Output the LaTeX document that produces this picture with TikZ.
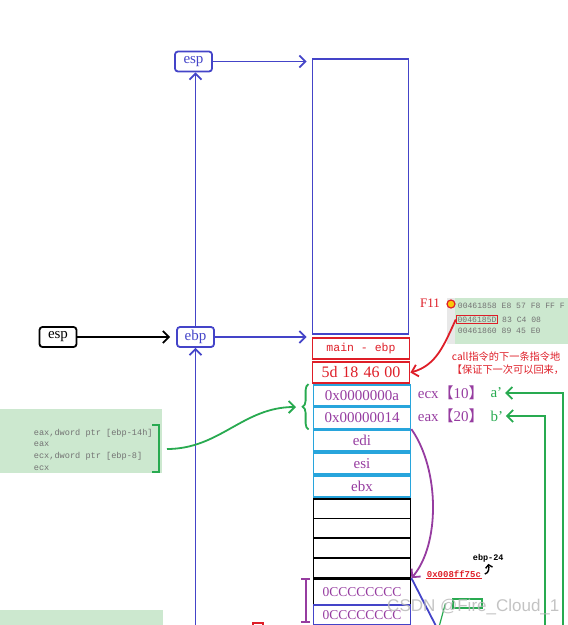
\documentclass[tikz,border=0pt]{standalone}
\usepackage{fontspec}
\setmainfont{Liberation Serif}
\setmonofont{Liberation Mono}
\setsansfont{Liberation Sans}
\newfontfamily\cjk{Noto Sans CJK SC}
\usetikzlibrary{arrows.meta, positioning, decorations.pathreplacing}
\definecolor{regblue}{RGB}{68,68,200}
\definecolor{regred}{RGB}{222,30,40}
\definecolor{slotcyan}{RGB}{40,165,220}
\definecolor{valpurple}{RGB}{150,60,160}
\definecolor{linkgreen}{RGB}{40,170,80}
\definecolor{panelgreen}{RGB}{204,232,207}
\definecolor{codegray}{RGB}{115,115,115}
\tikzstyle{reg} = [rectangle, rounded corners=3pt, draw=regblue, text=regblue, minimum width=37pt, minimum height=20pt, inner sep=1pt, font=\fontsize{15}{15}\selectfont]
\tikzstyle{slot} = [rectangle, draw, minimum width=97pt, minimum height=21pt, inner sep=0pt, font=\fontsize{15}{15}\selectfont]
\tikzstyle{redslot} = [slot, draw=regred, text=regred]
\tikzstyle{cyanslot} = [slot, draw=slotcyan, text=valpurple]
\tikzstyle{arrow} = [-{Straight Barb[length=6pt,width=12pt]}]
\tikzstyle{code} = [font=\fontsize{8.6}{11.7}\ttfamily, text=codegray, align=left, inner sep=0pt]
\tikzstyle{dump} = [code, font=\fontsize{8.1}{11.7}\ttfamily]
\tikzstyle{label} = [anchor=west, inner sep=0pt, font=\fontsize{15}{15}\selectfont]

\begin{document}
\begin{tikzpicture}[x=1pt,y=-1pt,line width=1.8pt]
               \useasboundingbox (0,0) rectangle (568,625);
               \clip (0,0) rectangle (568,625);
               \fill[panelgreen] (0,409) rectangle (162,473);
               \fill[panelgreen] (0,610) rectangle (163,625);
               \fill[gray!18] (447,298) rectangle (455,344);
               \fill[panelgreen] (455,298) rectangle (568,344);
               \node[reg] (espTop) at (193.5,61.5) {esp};
               \node[reg] (ebp) at (195.5,337) {ebp};
               \node[reg, draw=black, text=black] (espOld) at (58,337) {esp};
               \node[draw=regblue, minimum width=96pt, minimum height=275pt, inner sep=0pt] (frame) at (360.5,196.5) {};
               \node[redslot, font=\fontsize{11.5}{12}\ttfamily] (mainebp) at (361,348.5) {main - ebp};
               \node[redslot, font=\fontsize{16}{16}\selectfont] (retaddr) at (361,372.5) {5d\hspace{5pt}18\hspace{5pt}46\hspace{5pt}00};
               \node[cyanslot] (vala) at (362,395.5) {0x0000000a};
               \node[cyanslot] (valb) at (362,418) {0x00000014};
               \node[cyanslot] (edi) at (362,440.5) {edi};
               \node[cyanslot] (esi) at (362,463.5) {esi};
               \node[cyanslot] (ebx) at (362,486.5) {ebx};
               \foreach \i [count=\n] in {0,...,3}
                 \node[slot, minimum height=19.8pt] (blank\n) at (362,{508.5+19.9*\i}) {};
               \node[slot, minimum height=26pt, text=valpurple, font=\fontsize{13.5}{14}\selectfont] (ccA) at (362,592) {0CCCCCCCC};
               \node[slot, draw=regblue, minimum height=20pt, text=valpurple, font=\fontsize{13.5}{14}\selectfont] (ccB) at (362,615) {0CCCCCCCC};
               \node[label, text=valpurple] (ecxlab) at (417,393) {ecx{\cjk【}10{\cjk】}};
               \node[text=linkgreen, inner sep=0pt, font=\fontsize{15}{15}\selectfont, right=5pt of ecxlab] (aprime) {a'};
               \node[label, text=valpurple] (eaxlab) at (417,416) {eax{\cjk【}20{\cjk】}};
               \node[text=linkgreen, inner sep=0pt, font=\fontsize{15}{15}\selectfont, right=5pt of eaxlab] (bprime) {b'};
               \node[code, anchor=north west] (codeText) at (33,428) {eax,dword ptr [ebp-14h]\\eax\\ecx,dword ptr [ebp-8]\\ecx};
               \node[dump, anchor=west] (lineA) at (457,306) {00461858 E8 57 F8 FF F};
               \node[dump, anchor=west, draw=regred, line width=1.2pt, inner sep=1.2pt] (retsite) at (455.8,319.5) {0046185D};
               \node[dump, right=3pt of retsite] (lineB) {83 C4 08};
               \node[dump, anchor=west] (lineC) at (457,331) {00461860 89 45 E0};
               \node[circle, draw=regred, fill=yellow!60!orange, line width=1.2pt, inner sep=0pt, minimum size=8pt] (bp) at (451,304) {};
               \node[text=regred, font=\fontsize{13}{13}\selectfont] (fkey) at (430,303) {F11};
               \node[anchor=west, text=regred, inner sep=0pt, align=left, font=\cjk\fontsize{10.2}{13.5}\selectfont] (callnote) at (451,363) {call指令的下一条指令地\\【保证下一次可以回来，};
               \node[anchor=west, inner sep=0pt, text=regred, font=\fontsize{9}{9}\ttfamily\bfseries] (espval) at (426,574) {0x008ff75c};
               \node[anchor=west, inner sep=0pt, font=\fontsize{8.5}{9}\ttfamily\bfseries] (ebpoff) at (472,558) {ebp-24};
               \node[draw=linkgreen, line width=1.2pt, minimum width=29pt, minimum height=9pt, inner sep=0pt] (tinybox) at (467.5,603.5) {};
               \node[draw=regred, line width=1.2pt, minimum size=10pt, inner sep=0pt] (redmark) at (258,628) {};
               \coordinate (stackIn) at (195.5,630);
               \coordinate (aIn) at (563,630);
               \coordinate (bIn) at (545,630);
               \coordinate (diagEnd) at (437,628);
               \coordinate (tinyEnd) at (439,627);
               \coordinate (braceTip) at (296,407);
               \coordinate (codeEnd) at (167,449);
               \draw [arrow, regblue, shorten >=5pt] (espTop) -- (espTop -| frame.west);
               \draw [arrow, regblue] (ebp.north) -- (ebp.north |- espTop.south);
               \draw [arrow, regblue, shorten >=5pt] (ebp) -- (ebp -| frame.west);
               \draw [arrow, shorten >=6pt] (espOld) -- (ebp);
               \draw [arrow, regblue] (stackIn) -- (ebp.south);
               \draw [arrow, linkgreen, shorten >=2pt] (aIn) |- (aprime.east);
               \draw [arrow, linkgreen, shorten >=2pt] (bIn) |- (bprime.east);
               \draw [linkgreen, decorate, decoration={brace, amplitude=6pt}] ([xshift=-4pt]valb.south west) -- ([xshift=-4pt]vala.north west);
               \draw [linkgreen] (152,425) -- (159,425) -- (159,472) -- (152,472);
               \draw [arrow, linkgreen] (codeEnd) to[out=0, in=180] (braceTip);
               \draw [arrow, regred] (retsite.west) to[out=-115, in=15] (retaddr.east);
               \draw [arrow, valpurple] (edi.north east) .. controls (440,470) and (440,545) .. (ccA.north east);
               \draw [valpurple, {Bar[width=9pt]}-{Bar[width=9pt]}] ([xshift=-7pt]ccA.north west) -- ++(0,45);
               \draw [regblue] (ccA.north east) -- (diagEnd);
               \draw [linkgreen, line width=1.2pt] ([xshift=-7pt]tinybox.west) -- (tinyEnd);
               \draw [regred, line width=1.2pt] (espval.south west) -- (espval.south east);
               \draw [line width=1.4pt, -{Straight Barb[length=3pt,width=7pt]}, shorten >=1pt] ([xshift=3pt]espval.east) to[out=10, in=-80] (ebpoff.south);
               \node[anchor=west, text=gray!55, opacity=0.85, font=\sffamily\fontsize{17}{17}\selectfont] (mark) at (383,607) {CSDN @Fire\_Cloud\_1};
               \end{tikzpicture}
\end{document}
